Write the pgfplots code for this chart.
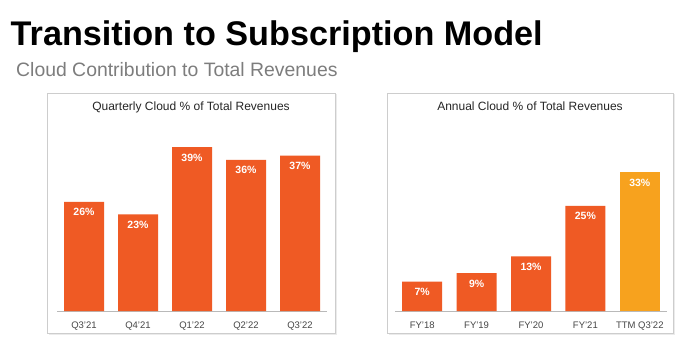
\documentclass[border=0pt]{standalone}
\usepackage{pgfplots}
\pgfplotsset{compat=1.18}
\usepackage{fontspec}
\setmainfont{Liberation Sans}
\definecolor{barorange}{RGB}{239,90,36}
\definecolor{baryellow}{RGB}{247,162,30}
\definecolor{boxgray}{RGB}{205,205,205}
\definecolor{axisgray}{RGB}{185,185,185}
\definecolor{subgray}{RGB}{125,125,125}
\definecolor{tickgray}{RGB}{70,70,70}
\pgfplotsset{
  panel/.style={
    scale only axis,
    anchor=south west,
    height=189pt,
    ymin=0, ymax=45,
    xmin=-0.5, xmax=4.5,
    axis x line=bottom,
    axis y line=none,
    axis line style={-, draw=axisgray, line width=0.8pt},
    xtick={0,1,2,3,4},
    xtick style={draw=none},
    xticklabel style={anchor=base, yshift=-13.3pt, font=\fontsize{9.5}{11}\selectfont, text=tickgray, inner sep=0pt},
    ybar, bar width=40pt, bar shift=0pt,
    /pgf/number format/assume math mode=true,
    nodes near coords={\pgfmathprintnumber{\pgfplotspointmeta}\%},
    every node near coord/.append style={anchor=base, yshift=-14pt, text=white, font=\bfseries\fontsize{10.5}{12}\selectfont},
    clip=false,
  }
}
\begin{document}
\begin{tikzpicture}[x=1pt,y=1pt]
\useasboundingbox (0,0) rectangle (700,353);
\fill[white] (0,0) rectangle (700,353);
% titles
\node[anchor=base west, inner sep=0pt] at (10.5,307) {\bfseries\fontsize{34.2}{40}\selectfont Transition to Subscription Model};
\node[anchor=base west, inner sep=0pt, text=subgray] at (16,276.5) {\fontsize{19.4}{23}\selectfont Cloud Contribution to Total Revenues};
% panel boxes
\fill[black!8] (48.5,18.5) rectangle (336.5,259);
\draw[boxgray, fill=white, line width=0.8pt] (47,20) rectangle (335,260);
\fill[black!8] (388.5,18.5) rectangle (674.5,259);
\draw[boxgray, fill=white, line width=0.8pt] (387,20) rectangle (673,260);
\node[anchor=base, inner sep=0pt, text=black!85] at (191,242) {\fontsize{12}{14}\selectfont Quarterly Cloud \% of Total Revenues};
\node[anchor=base, inner sep=0pt, text=black!85] at (530,242) {\fontsize{12}{14}\selectfont Annual Cloud \% of Total Revenues};
% left chart
\begin{axis}[panel, at={(57pt,42pt)}, width=270pt,
  xticklabels={Q3'21,Q4'21,Q1'22,Q2'22,Q3'22}]
\addplot[fill=barorange, draw=none] coordinates {(0,26) (1,23) (2,39) (3,36) (4,37)};
\end{axis}
% right chart
\begin{axis}[panel, at={(395pt,42pt)}, width=272pt,
  xticklabels={FY'18,FY'19,FY'20,FY'21,TTM Q3'22}]
\addplot[fill=barorange, draw=none] coordinates {(0,7) (1,9) (2,13) (3,25)};
\addplot[fill=baryellow, draw=none] coordinates {(4,33)};
\end{axis}
\end{tikzpicture}
\end{document}
